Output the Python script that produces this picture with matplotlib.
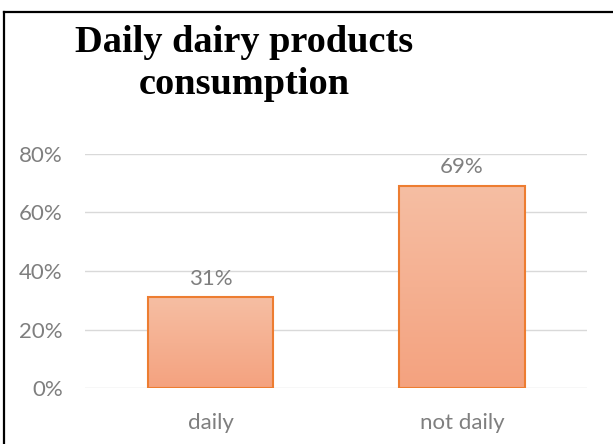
import matplotlib
matplotlib.use("Agg")
import matplotlib.pyplot as plt
import numpy as np
from matplotlib.colors import LinearSegmentedColormap
from matplotlib.lines import Line2D

categories = ["daily", "not daily"]
shares = [0.31, 0.69]
yticks = [0, 0.2, 0.4, 0.6, 0.8]
ytick_labels = ["0%", "20%", "40%", "60%", "80%"]
title_lines = ["Daily dairy products", "consumption"]

grey = "#7F7F7F"
fade = LinearSegmentedColormap.from_list("fade", ["#F4A27F", "#F6BEA3"])

fig = plt.figure(figsize=(6.13, 4.44), dpi=100)
ax = fig.add_axes([0.1387, 0.1261, 0.8197, 0.5271])

x = np.arange(len(categories))
bars = ax.bar(x, shares, width=0.5, color="none", edgecolor="#ED7D31", linewidth=1.5, zorder=3)
grad = np.linspace(0, 1, 256).reshape(-1, 1)
for b in bars:
    x0, y0 = b.get_x(), b.get_y()
    im = ax.imshow(grad, cmap=fade, origin="lower", aspect="auto",
                   extent=[x0, x0 + b.get_width(), y0, y0 + b.get_height()], zorder=2)
    im.set_clip_path(b)

for xi, v in zip(x, shares):
    ax.text(xi, v + 0.03, f"{v:.0%}", ha="center", va="bottom",
            color=grey, fontsize=16, family="Lato")

ax.set_xlim(-0.5, 1.5)
ax.set_ylim(0, 0.8)
ax.set_yticks(yticks)
ax.set_yticklabels(ytick_labels, color=grey, fontsize=16, family="Lato")
ax.set_xticks(x)
ax.set_xticklabels(categories, color=grey, fontsize=16, family="Lato")
ax.tick_params(axis="x", length=0, pad=18)
ax.tick_params(axis="y", length=0, pad=16)
ax.grid(axis="y", color="#D9D9D9", linewidth=1, zorder=0)
for s in ax.spines.values():
    s.set_visible(False)

# two-line title, each line placed on its own baseline
for line, base in zip(title_lines, [52, 94]):
    fig.text(0.398, 1 - base / 444, line, ha="center", va="baseline",
             family="Liberation Serif", fontweight="bold", fontsize=27.6)

# frame lines along the top and left edge
fig.add_artist(Line2D([4 / 613, 1], [1 - 12.5 / 444] * 2, color="black", lw=1.6))
fig.add_artist(Line2D([4 / 613] * 2, [0, 1 - 12.5 / 444], color="black", lw=1.6))

fig.savefig("out.png", dpi=100)
